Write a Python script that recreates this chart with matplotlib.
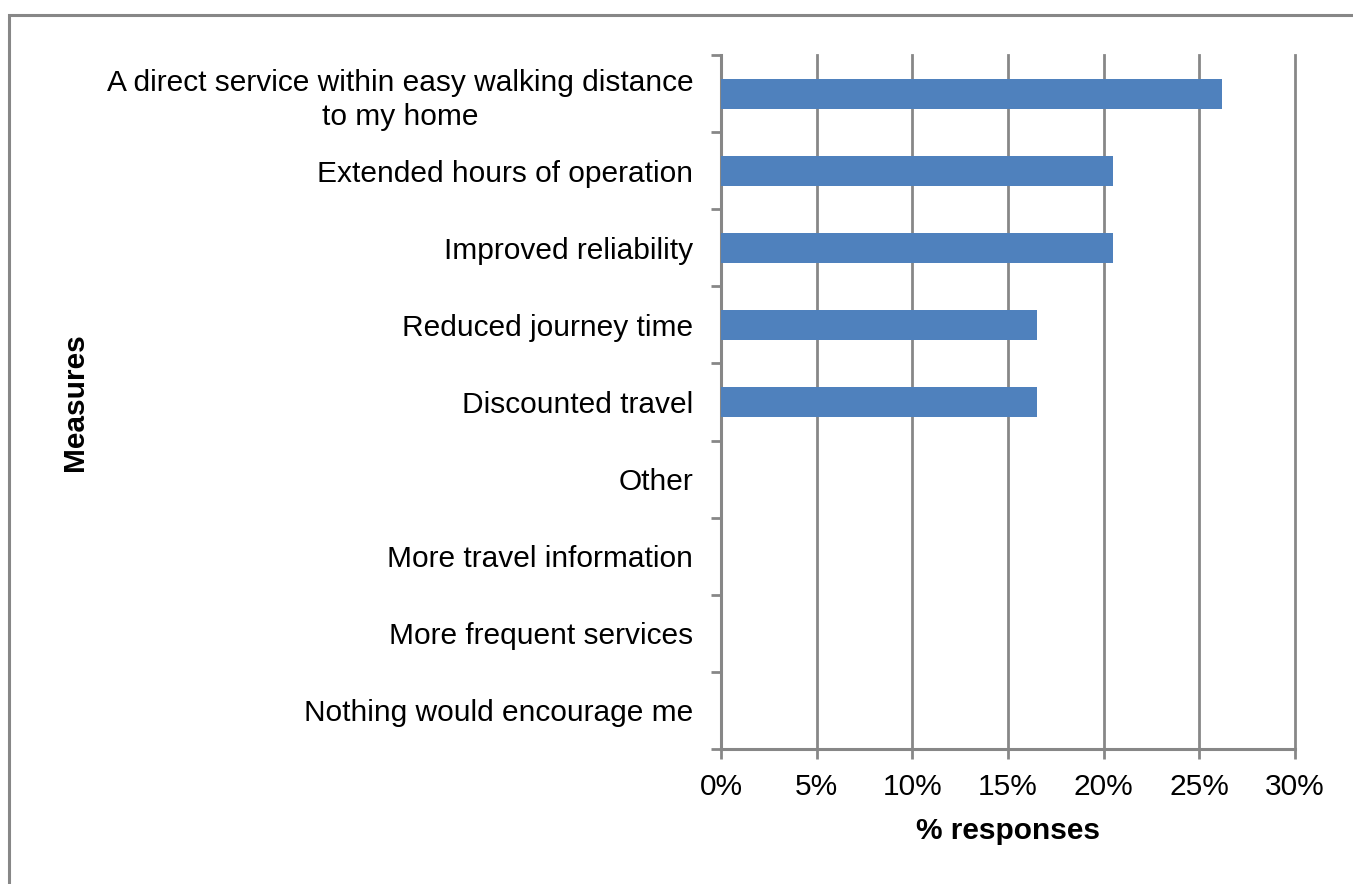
import matplotlib.pyplot as plt
from matplotlib.patches import Rectangle
from matplotlib.ticker import FuncFormatter, FixedLocator

# Data (top to bottom)
measures = ["A direct service within easy walking distance\nto my home",
            "Extended hours of operation",
            "Improved reliability",
            "Reduced journey time",
            "Discounted travel",
            "Other",
            "More travel information",
            "More frequent services",
            "Nothing would encourage me"]
responses = [26.2, 20.5, 20.5, 16.5, 16.5, 0, 0, 0, 0]

plt.rcParams['font.family'] = ['Liberation Sans', 'DejaVu Sans']
grey = '#878787'
fs = 21.5

fig = plt.figure(figsize=(13.53, 8.84), dpi=100)
ax = fig.add_axes([721 / 1353, 1 - 749 / 884, 574 / 1353, 694 / 884])

# outer chart border (left and top visible only)
fig.patches.append(Rectangle((9 / 1353, -0.1), 1.2, 1 - 15 / 884 + 0.1,
                             transform=fig.transFigure, fill=False,
                             edgecolor=grey, linewidth=2.2))

n = len(measures)
ypos = list(range(n))[::-1]
ax.barh(ypos, responses, height=0.39, color='#4F81BD', zorder=3)

ax.set_xlim(0, 30)
ax.set_ylim(-0.5, n - 0.5)
ax.set_xticks(range(0, 31, 5))
ax.xaxis.set_major_formatter(FuncFormatter(lambda v, p: f"{v:.0f}%"))
ax.set_yticks(ypos)
ax.set_yticklabels(measures, linespacing=1.3)
for lab in ax.get_yticklabels():
    lab.set_horizontalalignment('right')
    lab.set_multialignment('center')
ax.yaxis.set_minor_locator(FixedLocator([i - 0.5 for i in range(n + 1)]))
ax.tick_params(axis='y', which='major', length=0, pad=20, labelsize=fs)
ax.tick_params(axis='y', which='minor', length=7, width=2, color=grey, direction='out')
ax.tick_params(axis='x', length=7, width=2, color=grey, labelsize=fs, pad=10)

ax.grid(axis='x', color=grey, linewidth=2, zorder=0)
for line in ax.get_xgridlines():
    line.set_clip_on(False)
for s in ['top', 'right']:
    ax.spines[s].set_visible(False)
for s in ['left', 'bottom']:
    ax.spines[s].set_color(grey)
    ax.spines[s].set_linewidth(2.2)

ax.set_xlabel('% responses', fontsize=fs, fontweight='bold', labelpad=12)
fig.text(75 / 1353, 1 - 402 / 884, 'Measures', rotation=90, fontsize=fs,
         fontweight='bold', ha='center', va='center')

fig.savefig('out.png', dpi=100)
